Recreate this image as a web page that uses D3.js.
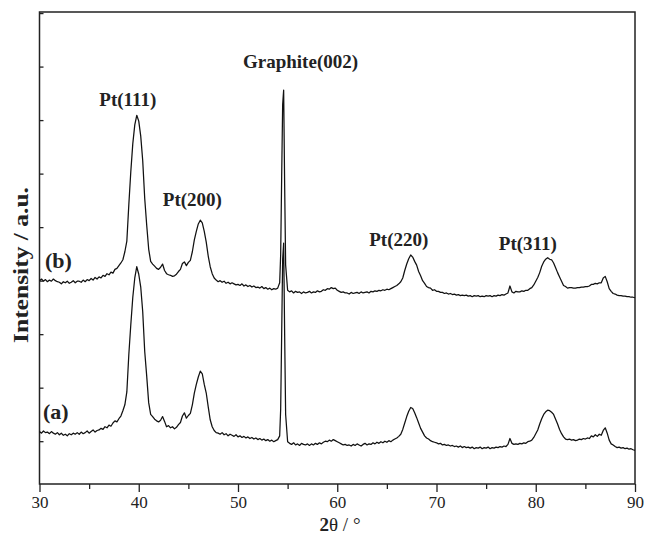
<!DOCTYPE html>
<html>
<head>
<meta charset="utf-8">
<script src="https://cdn.jsdelivr.net/npm/d3@7"></script>
<style>
	body { margin:0; background:#fff; }
	svg { display:block; }
	.axis text { font-family:"Liberation Serif", "Times New Roman", serif; font-size:17px; fill:#222; }
	.axis path { display:none; }
	.axis line { stroke:#222; stroke-width:1.3; }
	.title { font-family:"Liberation Serif", "Times New Roman", serif; font-weight:bold; fill:#222; }
	.peak { font-family:"Liberation Serif", "Times New Roman", serif; font-weight:bold; font-size:19px; fill:#222; }
	.sample { font-family:"Liberation Serif", "Times New Roman", serif; font-weight:bold; font-size:22px; fill:#222; }
	.curve { fill:none; stroke:#111; stroke-width:1.25; stroke-linejoin:round; }
</style>
</head>
<body>
<svg id="chart" width="649" height="537"></svg>
<script>
"use strict";

//*-*-*-*-*-*-*-*-*-*-*-*-*-*-*-*-*-*-*-*-*-*-*-*-*-*-*-
//	data
//*-*-*-*-*-*-*-*-*-*-*-*-*-*-*-*-*-*-*-*-*-*-*-*-*-*-*-
var twoTheta = [
	30.0,30.2,30.4,30.6,30.8,31.0,31.2,31.4,31.6,31.8,
	32.0,32.2,32.4,32.6,32.8,33.0,33.2,33.4,33.6,33.8,
	34.0,34.2,34.4,34.6,34.8,35.0,35.2,35.4,35.6,35.8,
	36.0,36.2,36.4,36.6,36.8,37.0,37.2,37.4,37.6,37.8,
	38.0,38.2,38.4,38.6,38.8,39.0,39.2,39.4,39.6,39.8,
	40.0,40.2,40.4,40.6,40.8,41.0,41.2,41.4,41.6,41.8,
	42.0,42.2,42.4,42.6,42.8,43.0,43.2,43.4,43.6,43.8,
	44.0,44.2,44.4,44.6,44.8,45.0,45.2,45.4,45.6,45.8,
	46.0,46.2,46.4,46.6,46.8,47.0,47.2,47.4,47.6,47.8,
	48.0,48.2,48.4,48.6,48.8,49.0,49.2,49.4,49.6,49.8,
	50.0,50.2,50.4,50.6,50.8,51.0,51.2,51.4,51.6,51.8,
	52.0,52.2,52.4,52.6,52.8,53.0,53.2,53.4,53.6,53.8,
	54.0,54.2,54.3,54.4,54.5,54.6,54.7,54.8,
	55.0,55.2,55.4,55.6,55.8,56.0,56.2,56.4,56.6,56.8,
	57.0,57.2,57.4,57.6,57.8,58.0,58.2,58.4,58.6,58.8,
	59.0,59.2,59.4,59.6,59.8,60.0,60.2,60.4,60.6,60.8,
	61.0,61.2,61.4,61.6,61.8,62.0,62.2,62.4,62.6,62.8,
	63.0,63.2,63.4,63.6,63.8,64.0,64.2,64.4,64.6,64.8,
	65.0,65.2,65.4,65.6,65.8,66.0,66.2,66.4,66.6,66.8,
	67.0,67.2,67.4,67.6,67.8,68.0,68.2,68.4,68.6,68.8,
	69.0,69.2,69.4,69.6,69.8,70.0,70.2,70.4,70.6,70.8,
	71.0,71.2,71.4,71.6,71.8,72.0,72.2,72.4,72.6,72.8,
	73.0,73.2,73.4,73.6,73.8,74.0,74.2,74.4,74.6,74.8,
	75.0,75.2,75.4,75.6,75.8,76.0,76.2,76.4,76.6,76.8,
	77.0,77.2,77.4,77.6,77.8,78.0,78.2,78.4,78.6,78.8,
	79.0,79.2,79.4,79.6,79.8,80.0,80.2,80.4,80.6,80.8,
	81.0,81.2,81.4,81.6,81.8,82.0,82.2,82.4,82.6,82.8,
	83.0,83.2,83.4,83.6,83.8,84.0,84.2,84.4,84.6,84.8,
	85.0,85.2,85.4,85.6,85.8,86.0,86.2,86.4,86.6,86.8,
	87.0,87.2,87.4,87.6,87.8,88.0,88.2,88.4,88.6,88.8,
	89.0,89.2,89.4,89.6,89.8,90.0
];
// sample (a)
var intensityA = [
	118,115,119,116,117,114,118,115,113,116,
	112,115,111,113,110,114,112,115,113,116,
	113,117,114,116,119,115,118,121,117,120,
	121,124,122,127,125,130,128,134,138,136,
	142,147,157,168,192,262,318,369,405,426,
	412,388,342,268,222,172,150,146,141,138,
	136,139,146,137,127,129,125,127,123,126,
	131,135,147,153,143,148,152,168,190,206,
	220,231,226,206,190,164,140,127,120,116,
	115,113,116,112,114,110,113,111,109,112,
	108,110,107,109,106,108,105,107,104,106,
	103,105,102,104,101,103,100,102,99,101,
	103,110,160,300,440,470,300,150,
	99,96,94,97,93,95,92,96,94,93,
	95,92,95,93,96,94,97,95,98,100,
	99,102,100,103,101,99,97,95,93,94,
	92,93,91,94,92,95,93,91,94,96,
	93,95,94,97,95,98,96,99,97,100,
	98,101,99,102,104,106,109,113,122,134,
	146,156,163,161,153,144,134,124,117,110,
	106,104,101,99,98,97,95,96,93,94,
	92,93,91,92,90,91,89,91,88,90,
	88,89,87,89,86,88,87,89,86,88,
	87,89,86,88,87,89,88,90,89,91,
	90,94,105,96,94,95,94,96,95,97,
	96,99,100,102,107,114,121,132,142,150,
	155,158,157,154,150,141,132,122,114,108,
	104,103,104,102,103,101,102,104,103,105,
	104,106,105,110,108,112,109,113,111,120,
	125,115,102,95,93,90,88,89,87,88,
	86,87,85,86,84,83
];
// sample (b)
var intensityB = [
	116,119,115,118,114,117,115,119,116,114,
	113,110,114,112,115,111,113,116,112,115,
	115,113,117,114,118,116,120,117,122,119,
	123,121,126,124,129,127,132,130,137,139,
	144,149,155,170,190,258,320,372,407,425,
	414,386,340,270,220,175,152,147,143,139,
	137,141,147,135,129,127,126,124,125,128,
	133,137,148,151,144,150,154,170,192,208,
	222,229,224,208,188,162,142,129,121,117,
	114,116,113,115,111,113,110,112,110,108,
	109,107,110,106,108,105,107,104,106,103,
	104,102,105,101,103,100,102,99,101,100,
	102,112,165,310,445,472,295,145,
	98,95,97,93,96,94,95,92,95,93,
	94,96,93,95,94,97,95,96,99,98,
	101,100,103,101,102,98,96,94,95,93,
	93,91,94,92,93,94,92,95,93,94,
	95,93,96,95,97,96,98,97,99,98,
	100,99,101,103,105,107,110,114,121,135,
	147,157,164,160,152,145,133,125,116,111,
	105,103,102,98,99,96,96,94,94,92,
	93,91,92,90,91,89,90,88,89,88,
	89,87,88,86,88,87,88,86,87,86,
	88,87,88,86,88,87,89,88,90,89,
	91,93,106,95,93,96,95,95,97,96,
	98,98,101,103,108,115,122,131,143,151,
	156,159,156,155,149,140,131,123,115,107,
	105,102,103,103,102,102,103,103,104,104,
	105,105,106,109,109,111,110,112,112,121,
	124,114,101,96,92,91,89,88,88,87,
	87,86,86,85,85,84
];
// vertical shift that stacks (b) above (a)
var offsetB = 284;

var xTicks = [30, 40, 50, 60, 70, 80, 90];
var xMinorTicks = [35, 45, 55, 65, 75, 85];
var yTicks = [100, 200, 300, 400, 500, 600, 700, 800, 900];

var peakNames = ['Pt(111)', 'Pt(200)', 'Graphite(002)', 'Pt(220)', 'Pt(311)'];
var peakTheta = [38.9, 45.4, 56.3, 66.2, 79.2];
var peakLabelLevel = [726, 540, 797, 465, 457];

var sampleNames = ['(a)', '(b)'];
var sampleTheta = [30.35, 30.55];
var sampleLevel = [141, 424];

function draw_chart()
{
	var svg = d3.select('#chart');
	var plotLeft = 39.5, plotRight = 635, plotTop = 12, plotBottom = 484;

	var x = d3.scaleLinear().domain([30, 90]).range([plotLeft, plotRight]);
	var y = d3.scaleLinear().domain([20, 902]).range([plotBottom, plotTop]);

	//*-*-*-*-*-*-*-*-*-*-*-*-*-*-*-*-*-*-*-*-*-*-*-*-*-*-*-
	//	axes + frame
	//*-*-*-*-*-*-*-*-*-*-*-*-*-*-*-*-*-*-*-*-*-*-*-*-*-*-*-
	// x axis, major ticks with labels, minor without
	svg.append('g').attr('class', 'axis')
		.attr('transform', 'translate(0,' + plotBottom + ')')
		.call(d3.axisBottom(x).tickValues(xTicks).tickSize(8).tickPadding(4).tickFormat(d3.format('d')));
	svg.append('g').attr('class', 'axis')
		.attr('transform', 'translate(0,' + plotBottom + ')')
		.call(d3.axisBottom(x).tickValues(xMinorTicks).tickSize(5).tickFormat(''));
	// y axis, small inner ticks only
	svg.append('g').attr('class', 'axis')
		.attr('transform', 'translate(' + plotLeft + ',0)')
		.call(d3.axisLeft(y).tickValues(yTicks).tickSize(-4).tickFormat(''));

	svg.append('rect')
		.attr('x', plotLeft).attr('y', plotTop)
		.attr('width', plotRight - plotLeft).attr('height', plotBottom - plotTop)
		.attr('fill', 'none').attr('stroke', '#222').attr('stroke-width', 1.5);

	//*-*-*-*-*-*-*-*-*-*-*-*-*-*-*-*-*-*-*-*-*-*-*-*-*-*-*-
	//	curves
	//*-*-*-*-*-*-*-*-*-*-*-*-*-*-*-*-*-*-*-*-*-*-*-*-*-*-*-
	var line = d3.line()
		.x(function(d){ return x(d[0]); })
		.y(function(d){ return y(d[1]); });

	var curveA = twoTheta.map(function(t, i){ return [t, intensityA[i]]; });
	var curveB = twoTheta.map(function(t, i){ return [t, intensityB[i] + offsetB]; });

	svg.append('path').attr('class', 'curve').attr('d', line(curveA));
	svg.append('path').attr('class', 'curve').attr('d', line(curveB));

	//*-*-*-*-*-*-*-*-*-*-*-*-*-*-*-*-*-*-*-*-*-*-*-*-*-*-*-
	//	labels
	//*-*-*-*-*-*-*-*-*-*-*-*-*-*-*-*-*-*-*-*-*-*-*-*-*-*-*-
	svg.selectAll('text.peak')
		.data(peakNames).enter()
		.append('text')
			.attr('class', 'peak')
			.attr('text-anchor', 'middle')
			.attr('x', function(d, i){ return x(peakTheta[i]); })
			.attr('y', function(d, i){ return y(peakLabelLevel[i]); })
			.text(function(d){ return d; });

	svg.selectAll('text.sample')
		.data(sampleNames).enter()
		.append('text')
			.attr('class', 'sample')
			.attr('x', function(d, i){ return x(sampleTheta[i]); })
			.attr('y', function(d, i){ return y(sampleLevel[i]); })
			.text(function(d){ return d; });

	// axis titles
	var xTitle = svg.append('text').attr('class', 'title')
		.attr('x', 340).attr('y', 531)
		.attr('text-anchor', 'middle')
		.style('font-size', '19px');
	xTitle.append('tspan').text('2');
	xTitle.append('tspan').style('font-weight', 'normal').text('θ / °');

	svg.append('text').attr('class', 'title')
		.attr('transform', 'translate(28,' + 265 + ') rotate(-90)')
		.attr('text-anchor', 'middle')
		.attr('textLength', 156)
		.attr('lengthAdjust', 'spacingAndGlyphs')
		.style('font-size', '20px')
		.text('Intensity / a.u.');
}
draw_chart();
</script>
</body>
</html>
